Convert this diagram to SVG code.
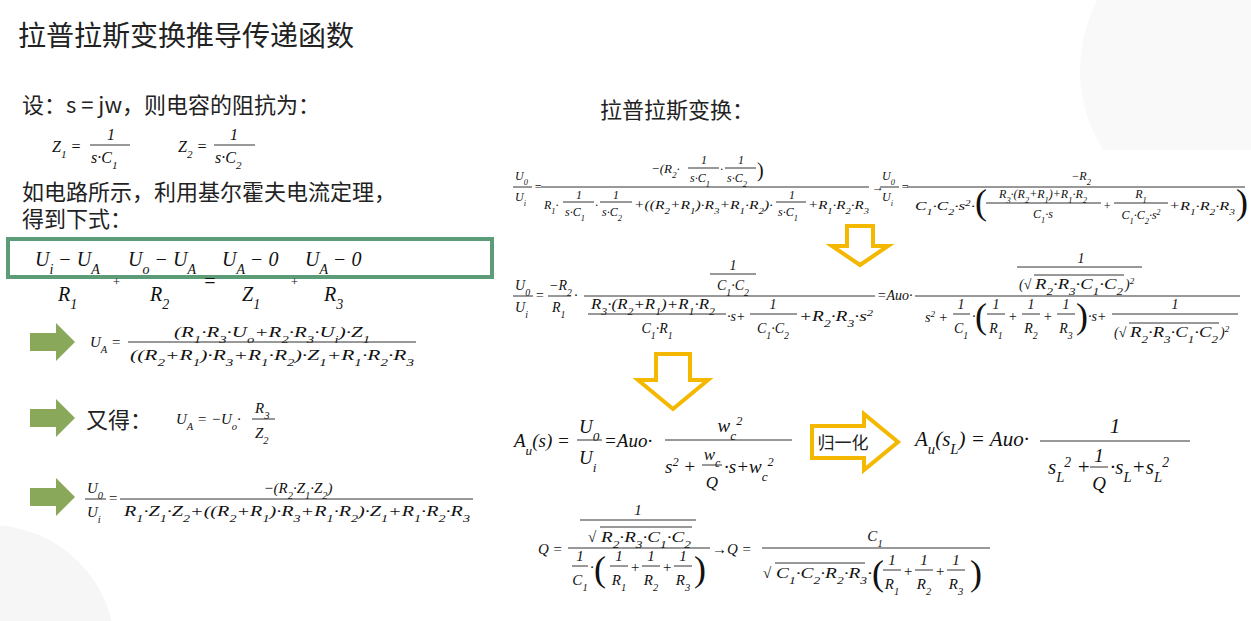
<svg xmlns="http://www.w3.org/2000/svg" width="1251" height="621" viewBox="0 0 1251 621">
<style>
.t{font-family:"Noto Sans CJK SC","Noto Sans",sans-serif;fill:#222}
.m{font-family:"Liberation Serif",serif;font-style:italic;fill:#111}
.s{font-size:70%;baseline-shift:sub}
.p{font-size:65%;baseline-shift:super}
.l{stroke:#333;stroke-width:1}
.ga{fill:#8aa85a}
.ya{fill:#fff;stroke:#f5b800;stroke-width:4}
</style>
<rect width="1251" height="621" fill="#fff"/>
<circle cx="1230" cy="70" r="150" fill="#f9f9f9"/>
<circle cx="-10" cy="650" r="125" fill="#f6f6f6"/>
<rect x="500" y="150" width="751" height="471" fill="#fff"/>
<text class="t" x="18" y="46" font-size="28" fill="#333">拉普拉斯变换推导传递函数</text>

<g id="left">
<text class="t" x="22" y="113" font-size="22">设：s = jw，则电容的阻抗为：</text>
<g class="m" font-size="16">
<text x="52" y="152">Z<tspan class="s">1</tspan> =</text><text x="107" y="140">1</text><line class="l" x1="90" y1="145" x2="130" y2="145"/><text x="91" y="163">s·C<tspan class="s">1</tspan></text>
<text x="178" y="152">Z<tspan class="s">2</tspan> =</text><text x="230" y="140">1</text><line class="l" x1="214" y1="145" x2="255" y2="145"/><text x="215" y="163">s·C<tspan class="s">2</tspan></text>
</g>
<text class="t" x="22" y="200" font-size="22">如电路所示，利用基尔霍夫电流定理，</text>
<text class="t" x="22" y="227" font-size="22">得到下式：</text>
<rect x="8" y="239" width="484" height="38" fill="none" stroke="#5c9c78" stroke-width="4"/>
<g class="m" font-size="20">
<text x="35" y="266">U<tspan class="s">i</tspan> − U<tspan class="s">A</tspan></text>
<text x="128" y="266">U<tspan class="s">o</tspan> − U<tspan class="s">A</tspan></text>
<text x="222" y="266">U<tspan class="s">A</tspan> − 0</text>
<text x="305" y="266">U<tspan class="s">A</tspan> − 0</text>
<text x="58" y="301">R<tspan class="s">1</tspan></text>
<text x="150" y="301">R<tspan class="s">2</tspan></text>
<text x="242" y="301">Z<tspan class="s">1</tspan></text>
<text x="324" y="301">R<tspan class="s">3</tspan></text>
<text x="112" y="286" font-size="13">+</text><text x="203" y="288">=</text><text x="290" y="286" font-size="13">+</text>
</g>
<g id="ga1"><path class="ga" d="M30 333h26v-10l19 19-19 19v-10h-26z"/></g>
<g id="ga2"><path class="ga" d="M30 409h26v-10l19 19-19 19v-10h-26z"/></g>
<g id="ga3"><path class="ga" d="M30 488h26v-10l19 19-19 19v-10h-26z"/></g>
<g class="m" font-size="15">
<text x="90" y="347">U<tspan class="s">A</tspan> =</text>
<text x="174" y="337" textLength="196" lengthAdjust="spacingAndGlyphs">(R<tspan class="s">1</tspan>·R<tspan class="s">3</tspan>·U<tspan class="s">o</tspan>+R<tspan class="s">2</tspan>·R<tspan class="s">3</tspan>·U<tspan class="s">i</tspan>)·Z<tspan class="s">1</tspan></text>
<line class="l" x1="128" y1="342" x2="416" y2="342"/>
<text x="130" y="360" textLength="284" lengthAdjust="spacingAndGlyphs">((R<tspan class="s">2</tspan>+R<tspan class="s">1</tspan>)·R<tspan class="s">3</tspan>+R<tspan class="s">1</tspan>·R<tspan class="s">2</tspan>)·Z<tspan class="s">1</tspan>+R<tspan class="s">1</tspan>·R<tspan class="s">2</tspan>·R<tspan class="s">3</tspan></text>
<text x="176" y="424">U<tspan class="s">A</tspan> = −U<tspan class="s">o</tspan>·</text>
<text x="255" y="413">R<tspan class="s">3</tspan></text><line class="l" x1="252" y1="419" x2="275" y2="419"/><text x="255" y="438">Z<tspan class="s">2</tspan></text>
<text x="87" y="493">U<tspan class="s">0</tspan></text><line class="l" x1="85" y1="499" x2="106" y2="499"/><text x="87" y="517">U<tspan class="s">i</tspan></text>
<text x="108" y="503">=</text>
<text x="298" y="493" text-anchor="middle">−(R<tspan class="s">2</tspan>·Z<tspan class="s">1</tspan>·Z<tspan class="s">2</tspan>)</text>
<line class="l" x1="120" y1="499" x2="473" y2="499"/>
<text x="124" y="516" textLength="346" lengthAdjust="spacingAndGlyphs">R<tspan class="s">1</tspan>·Z<tspan class="s">1</tspan>·Z<tspan class="s">2</tspan>+((R<tspan class="s">2</tspan>+R<tspan class="s">1</tspan>)·R<tspan class="s">3</tspan>+R<tspan class="s">1</tspan>·R<tspan class="s">2</tspan>)·Z<tspan class="s">1</tspan>+R<tspan class="s">1</tspan>·R<tspan class="s">2</tspan>·R<tspan class="s">3</tspan></text>
</g>
<text class="t" x="86" y="428" font-size="22">又得：</text>
</g>

<g id="right">
<text class="t" x="600" y="118" font-size="22">拉普拉斯变换：</text>
<g class="m" font-size="12">
<!-- row1 -->
<text x="515" y="180">U<tspan class="s">0</tspan></text><line class="l" x1="513" y1="187" x2="532" y2="187"/><text x="515" y="201">U<tspan class="s">i</tspan></text>
<text x="534" y="191">=</text>
<line class="l" x1="541" y1="187" x2="869" y2="187"/>
<text x="651" y="173" font-size="13">−(R<tspan class="s">2</tspan>·</text>
<text x="701" y="164">1</text><line class="l" x1="688" y1="168" x2="719" y2="168"/><text x="690" y="182">s·C<tspan class="s">1</tspan></text>
<text x="720" y="173">·</text>
<text x="738" y="164">1</text><line class="l" x1="725" y1="168" x2="756" y2="168"/><text x="727" y="182">s·C<tspan class="s">2</tspan></text>
<text x="757" y="177" font-size="20" font-style="normal">)</text>
<text x="544" y="209">R<tspan class="s">1</tspan>·</text>
<text x="576" y="199">1</text><line class="l" x1="563" y1="202" x2="594" y2="202"/><text x="565" y="216">s·C<tspan class="s">1</tspan></text>
<text x="595" y="209">·</text>
<text x="613" y="199">1</text><line class="l" x1="600" y1="202" x2="632" y2="202"/><text x="602" y="216">s·C<tspan class="s">2</tspan></text>
<text x="634" y="209" textLength="139" lengthAdjust="spacingAndGlyphs">+((R<tspan class="s">2</tspan>+R<tspan class="s">1</tspan>)·R<tspan class="s">3</tspan>+R<tspan class="s">1</tspan>·R<tspan class="s">2</tspan>)·</text>
<text x="789" y="199">1</text><line class="l" x1="776" y1="202" x2="806" y2="202"/><text x="778" y="216">s·C<tspan class="s">1</tspan></text>
<text x="808" y="209" textLength="61" lengthAdjust="spacingAndGlyphs">+R<tspan class="s">1</tspan>·R<tspan class="s">2</tspan>·R<tspan class="s">3</tspan></text>
<text x="872" y="191">→</text>
<text x="882" y="180">U<tspan class="s">0</tspan></text><line class="l" x1="880" y1="187" x2="899" y2="187"/><text x="882" y="201">U<tspan class="s">i</tspan></text>
<text x="901" y="191">=</text>
<line class="l" x1="907" y1="187" x2="1245" y2="187"/>
<text x="1081" y="180" text-anchor="middle">−R<tspan class="s">2</tspan></text>
<text x="915" y="210" textLength="60" lengthAdjust="spacingAndGlyphs">C<tspan class="s">1</tspan>·C<tspan class="s">2</tspan>·s<tspan class="p">2</tspan>·</text>
<text x="975" y="214" font-size="36" font-style="normal">(</text>
<text x="1043" y="198" text-anchor="middle">R<tspan class="s">3</tspan>·(R<tspan class="s">2</tspan>+R<tspan class="s">1</tspan>)+R<tspan class="s">1</tspan>·R<tspan class="s">2</tspan></text>
<line class="l" x1="986" y1="203" x2="1101" y2="203"/>
<text x="1043" y="218" text-anchor="middle">C<tspan class="s">1</tspan>·s</text>
<text x="1103" y="210">+</text>
<text x="1141" y="198" text-anchor="middle">R<tspan class="s">1</tspan></text>
<line class="l" x1="1114" y1="203" x2="1168" y2="203"/>
<text x="1141" y="219" text-anchor="middle">C<tspan class="s">1</tspan>·C<tspan class="s">2</tspan>·s<tspan class="p">2</tspan></text>
<text x="1169" y="210" textLength="66" lengthAdjust="spacingAndGlyphs">+R<tspan class="s">1</tspan>·R<tspan class="s">2</tspan>·R<tspan class="s">3</tspan></text>
<text x="1236" y="214" font-size="36" font-style="normal">)</text>

<!-- row2 -->
<g font-size="14">
<text x="515" y="290">U<tspan class="s">0</tspan></text><line class="l" x1="513" y1="296" x2="533" y2="296"/><text x="515" y="312">U<tspan class="s">i</tspan></text>
<text x="535" y="300">=</text>
<text x="549" y="290">−R<tspan class="s">2</tspan></text><line class="l" x1="548" y1="296" x2="571" y2="296"/><text x="552" y="312">R<tspan class="s">1</tspan></text>
<text x="574" y="300">·</text>
<line class="l" x1="584" y1="296" x2="875" y2="296"/>
<text x="733" y="270" text-anchor="middle">1</text><line class="l" x1="710" y1="274" x2="756" y2="274"/><text x="733" y="290" text-anchor="middle">C<tspan class="s">1</tspan>·C<tspan class="s">2</tspan></text>
<text x="591" y="309" textLength="124" lengthAdjust="spacingAndGlyphs">R<tspan class="s">3</tspan>·(R<tspan class="s">2</tspan>+R<tspan class="s">1</tspan>)+R<tspan class="s">1</tspan>·R<tspan class="s">2</tspan></text>
<line class="l" x1="588" y1="314" x2="726" y2="314"/>
<text x="657" y="333" text-anchor="middle">C<tspan class="s">1</tspan>·R<tspan class="s">1</tspan></text>
<text x="727" y="321">·s+</text>
<text x="773" y="309" text-anchor="middle">1</text><line class="l" x1="750" y1="314" x2="797" y2="314"/><text x="773" y="333" text-anchor="middle">C<tspan class="s">1</tspan>·C<tspan class="s">2</tspan></text>
<text x="799" y="321" textLength="74" lengthAdjust="spacingAndGlyphs">+R<tspan class="s">2</tspan>·R<tspan class="s">3</tspan>·s<tspan class="p">2</tspan></text>
<text x="877" y="300">=Auo·</text>
<line class="l" x1="915" y1="296" x2="1240" y2="296"/>
<text x="1081" y="263" text-anchor="middle">1</text><line class="l" x1="1017" y1="267" x2="1142" y2="267"/>
<text x="1019" y="289">(√</text><line class="l" x1="1034" y1="275" x2="1124" y2="275"/>
<text x="1035" y="289" textLength="88" lengthAdjust="spacingAndGlyphs">R<tspan class="s">2</tspan>·R<tspan class="s">3</tspan>·C<tspan class="s">1</tspan>·C<tspan class="s">2</tspan></text><text x="1125" y="289">)<tspan class="p">2</tspan></text>
<text x="925" y="322">s<tspan class="p">2</tspan> +</text>
<text x="961" y="309" text-anchor="middle">1</text><line class="l" x1="953" y1="314" x2="970" y2="314"/><text x="961" y="333" text-anchor="middle">C<tspan class="s">1</tspan></text>
<text x="972" y="321">·</text>
<text x="975" y="328" font-size="36" font-style="normal">(</text>
<text x="996" y="309" text-anchor="middle">1</text><line class="l" x1="987" y1="314" x2="1005" y2="314"/><text x="996" y="333" text-anchor="middle">R<tspan class="s">1</tspan></text>
<text x="1008" y="321">+</text>
<text x="1031" y="309" text-anchor="middle">1</text><line class="l" x1="1022" y1="314" x2="1040" y2="314"/><text x="1031" y="333" text-anchor="middle">R<tspan class="s">2</tspan></text>
<text x="1043" y="321">+</text>
<text x="1066" y="309" text-anchor="middle">1</text><line class="l" x1="1057" y1="314" x2="1075" y2="314"/><text x="1066" y="333" text-anchor="middle">R<tspan class="s">3</tspan></text>
<text x="1076" y="328" font-size="36" font-style="normal">)</text>
<text x="1088" y="321">·s+</text>
<text x="1175" y="309" text-anchor="middle">1</text><line class="l" x1="1112" y1="314" x2="1238" y2="314"/>
<text x="1114" y="337">(√</text><line class="l" x1="1129" y1="323" x2="1219" y2="323"/>
<text x="1130" y="337" textLength="88" lengthAdjust="spacingAndGlyphs">R<tspan class="s">2</tspan>·R<tspan class="s">3</tspan>·C<tspan class="s">1</tspan>·C<tspan class="s">2</tspan></text><text x="1220" y="337">)<tspan class="p">2</tspan></text>
</g>
</g>
<g id="ya1"><path class="ya" d="M847 226h26v20h15l-28 19-28-19h15z"/></g>
<g id="ya2"><path class="ya" d="M656 354h34v26h18l-35 29-35-29h18z"/></g>

<g class="m" font-size="19">
<text x="514" y="447">A<tspan class="s">u</tspan>(s) =</text>
<text x="579" y="433">U<tspan class="s">0</tspan></text><line class="l" x1="577" y1="440" x2="602" y2="440"/><text x="579" y="464">U<tspan class="s">i</tspan></text>
<text x="604" y="447">=Auo·</text>
<line class="l" x1="665" y1="440" x2="792" y2="440"/>
<text x="730" y="432" text-anchor="middle">w<tspan class="s">c</tspan><tspan class="p">2</tspan></text>
<text x="665" y="473">s<tspan class="p">2</tspan> +</text>
<text x="712" y="460" font-size="17" text-anchor="middle">w<tspan class="s">c</tspan></text><line class="l" x1="702" y1="465" x2="722" y2="465"/><text x="712" y="488" font-size="17" text-anchor="middle">Q</text>
<text x="724" y="473">·s+w<tspan class="s">c</tspan><tspan class="p">2</tspan></text>
<text x="915" y="446" font-size="21">A<tspan class="s">u</tspan>(s<tspan class="s">L</tspan>) = Auo·</text>
<line class="l" x1="1040" y1="441" x2="1190" y2="441"/>
<text x="1115" y="433" font-size="21" text-anchor="middle">1</text>
<text x="1048" y="474" font-size="21">s<tspan class="s">L</tspan><tspan class="p">2</tspan> +</text>
<text x="1099" y="462" text-anchor="middle">1</text><line class="l" x1="1090" y1="467" x2="1108" y2="467"/><text x="1099" y="490" text-anchor="middle">Q</text>
<text x="1110" y="474" font-size="21">·s<tspan class="s">L</tspan>+s<tspan class="s">L</tspan><tspan class="p">2</tspan></text>
</g>
<g id="norm"><path class="ya" d="M812 426h52v-12l34 28-34 28v-12h-52z"/><text class="t" x="843" y="449" font-size="17" text-anchor="middle">归一化</text></g>

<g class="m" font-size="15">
<text x="538" y="554">Q =</text>
<line class="l" x1="568" y1="548" x2="710" y2="548"/>
<text x="638" y="515" text-anchor="middle">1</text><line class="l" x1="580" y1="520" x2="696" y2="520"/>
<text x="588" y="542">√</text><line class="l" x1="600" y1="527" x2="692" y2="527"/>
<text x="601" y="542" textLength="90" lengthAdjust="spacingAndGlyphs">R<tspan class="s">2</tspan>·R<tspan class="s">3</tspan>·C<tspan class="s">1</tspan>·C<tspan class="s">2</tspan></text>
<text x="580" y="561" text-anchor="middle">1</text><line class="l" x1="572" y1="566" x2="588" y2="566"/><text x="580" y="585" text-anchor="middle">C<tspan class="s">1</tspan></text>
<text x="590" y="572">·</text>
<text x="594" y="581" font-size="36" font-style="normal">(</text>
<text x="619" y="561" text-anchor="middle">1</text><line class="l" x1="610" y1="566" x2="628" y2="566"/><text x="619" y="585" text-anchor="middle">R<tspan class="s">1</tspan></text>
<text x="630" y="572">+</text>
<text x="651" y="561" text-anchor="middle">1</text><line class="l" x1="642" y1="566" x2="660" y2="566"/><text x="651" y="585" text-anchor="middle">R<tspan class="s">2</tspan></text>
<text x="662" y="572">+</text>
<text x="683" y="561" text-anchor="middle">1</text><line class="l" x1="674" y1="566" x2="692" y2="566"/><text x="683" y="585" text-anchor="middle">R<tspan class="s">3</tspan></text>
<text x="694" y="581" font-size="36" font-style="normal">)</text>
<text x="712" y="554">→Q =</text>
<line class="l" x1="762" y1="548" x2="990" y2="548"/>
<text x="875" y="541" text-anchor="middle">C<tspan class="s">1</tspan></text>
<text x="763" y="578">√</text><line class="l" x1="775" y1="563" x2="865" y2="563"/>
<text x="776" y="578" textLength="96" lengthAdjust="spacingAndGlyphs">C<tspan class="s">1</tspan>·C<tspan class="s">2</tspan>·R<tspan class="s">2</tspan>·R<tspan class="s">3</tspan>·</text>
<text x="872" y="585" font-size="36" font-style="normal">(</text>
<text x="892" y="565" text-anchor="middle">1</text><line class="l" x1="883" y1="570" x2="901" y2="570"/><text x="892" y="589" text-anchor="middle">R<tspan class="s">1</tspan></text>
<text x="903" y="576">+</text>
<text x="924" y="565" text-anchor="middle">1</text><line class="l" x1="915" y1="570" x2="933" y2="570"/><text x="924" y="589" text-anchor="middle">R<tspan class="s">2</tspan></text>
<text x="935" y="576">+</text>
<text x="956" y="565" text-anchor="middle">1</text><line class="l" x1="947" y1="570" x2="965" y2="570"/><text x="956" y="589" text-anchor="middle">R<tspan class="s">3</tspan></text>
<text x="970" y="585" font-size="36" font-style="normal">)</text>
</g>
</g>
<g id="connectors"/>
</svg>
